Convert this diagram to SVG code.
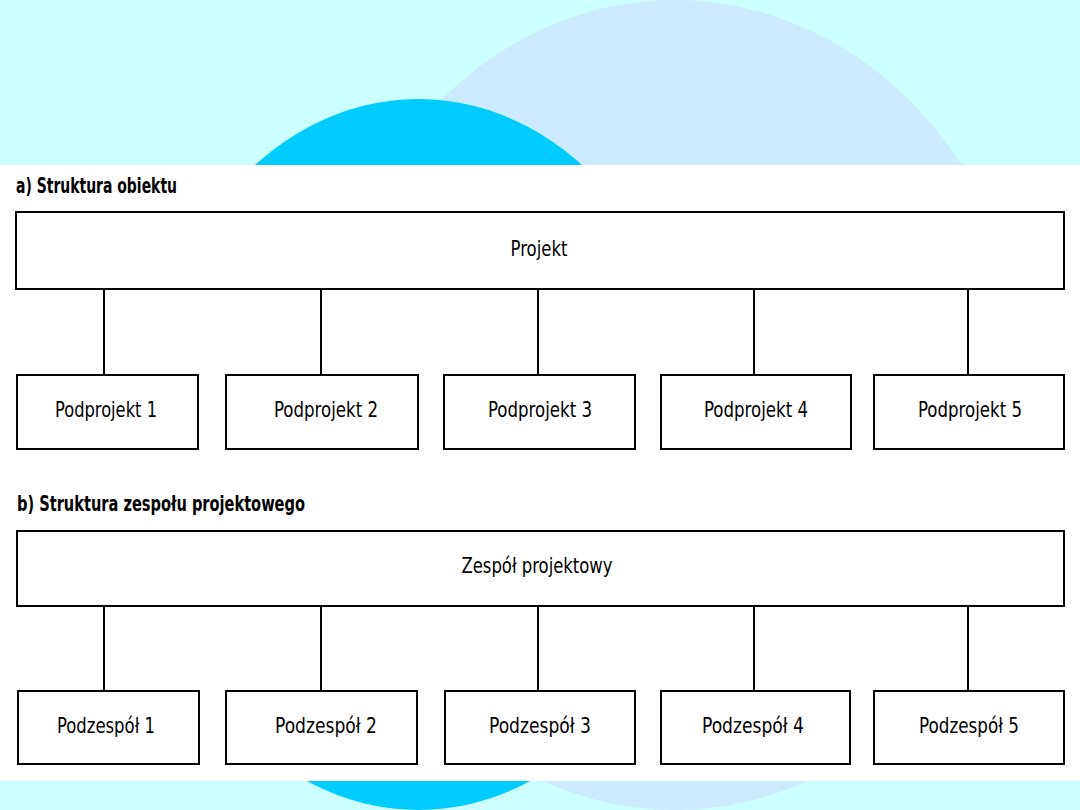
<svg xmlns="http://www.w3.org/2000/svg" width="1080" height="810" viewBox="0 0 1080 810">
<style>
.bg{fill:#CCFFFF}
.box{fill:#FFFFFF;stroke:#000000;stroke-width:2}
.conn line{stroke:#000000;stroke-width:2}
.lbl{font-family:"Liberation Sans Narrow","DejaVu Sans Condensed","Liberation Sans",sans-serif;font-size:21px;fill:#000000;text-anchor:middle}
.hdr{font-family:"Liberation Sans Narrow","DejaVu Sans Condensed","Liberation Sans",sans-serif;font-size:22px;font-weight:bold;fill:#000000}
</style>
<rect class="bg" x="0" y="0" width="1080" height="810"/>
<ellipse cx="675" cy="405" rx="356" ry="405" fill="#CCEBFF"/>
<ellipse cx="418.5" cy="454.5" rx="282" ry="355.5" fill="#00CCFF"/>
<rect x="0" y="165" width="1080" height="616" fill="#FFFFFF"/>

<text class="hdr" x="16" y="193" textLength="161" lengthAdjust="spacingAndGlyphs">a) Struktura obiektu</text>
<text class="hdr" x="17" y="511" textLength="288" lengthAdjust="spacingAndGlyphs">b) Struktura zespołu projektowego</text>

<g id="connectors" class="conn">
<line x1="104" y1="289" x2="104" y2="375"/>
<line x1="321" y1="289" x2="321" y2="375"/>
<line x1="538" y1="289" x2="538" y2="375"/>
<line x1="754" y1="289" x2="754" y2="375"/>
<line x1="968" y1="289" x2="968" y2="375"/>
<line x1="104" y1="606" x2="104" y2="691"/>
<line x1="321" y1="606" x2="321" y2="691"/>
<line x1="538" y1="606" x2="538" y2="691"/>
<line x1="754" y1="606" x2="754" y2="691"/>
<line x1="968" y1="606" x2="968" y2="691"/>
</g>

<g id="projekt"><rect class="box" x="16" y="212" width="1048" height="77"/><text class="lbl" x="539" y="256" textLength="57" lengthAdjust="spacingAndGlyphs">Projekt</text></g>
<g id="podprojekt1"><rect class="box" x="17" y="375" width="181" height="74"/><text class="lbl" x="106" y="417" textLength="102" lengthAdjust="spacingAndGlyphs">Podprojekt 1</text></g>
<g id="podprojekt2"><rect class="box" x="226" y="375" width="192" height="74"/><text class="lbl" x="326" y="417" textLength="104" lengthAdjust="spacingAndGlyphs">Podprojekt 2</text></g>
<g id="podprojekt3"><rect class="box" x="444" y="375" width="191" height="74"/><text class="lbl" x="540" y="417" textLength="104" lengthAdjust="spacingAndGlyphs">Podprojekt 3</text></g>
<g id="podprojekt4"><rect class="box" x="661" y="375" width="190" height="74"/><text class="lbl" x="756" y="417" textLength="104" lengthAdjust="spacingAndGlyphs">Podprojekt 4</text></g>
<g id="podprojekt5"><rect class="box" x="874" y="375" width="190" height="74"/><text class="lbl" x="970" y="417" textLength="104" lengthAdjust="spacingAndGlyphs">Podprojekt 5</text></g>

<g id="zespol"><rect class="box" x="17" y="531" width="1047" height="75"/><text class="lbl" x="537" y="573" textLength="151" lengthAdjust="spacingAndGlyphs">Zespół projektowy</text></g>
<g id="podzespol1"><rect class="box" x="18" y="691" width="181" height="73"/><text class="lbl" x="106" y="733" textLength="98" lengthAdjust="spacingAndGlyphs">Podzespół 1</text></g>
<g id="podzespol2"><rect class="box" x="226" y="691" width="191" height="73"/><text class="lbl" x="326" y="733" textLength="102" lengthAdjust="spacingAndGlyphs">Podzespół 2</text></g>
<g id="podzespol3"><rect class="box" x="445" y="691" width="190" height="73"/><text class="lbl" x="540" y="733" textLength="102" lengthAdjust="spacingAndGlyphs">Podzespół 3</text></g>
<g id="podzespol4"><rect class="box" x="661" y="691" width="189" height="73"/><text class="lbl" x="753" y="733" textLength="102" lengthAdjust="spacingAndGlyphs">Podzespół 4</text></g>
<g id="podzespol5"><rect class="box" x="874" y="691" width="190" height="73"/><text class="lbl" x="969" y="733" textLength="100" lengthAdjust="spacingAndGlyphs">Podzespół 5</text></g>
</svg>
